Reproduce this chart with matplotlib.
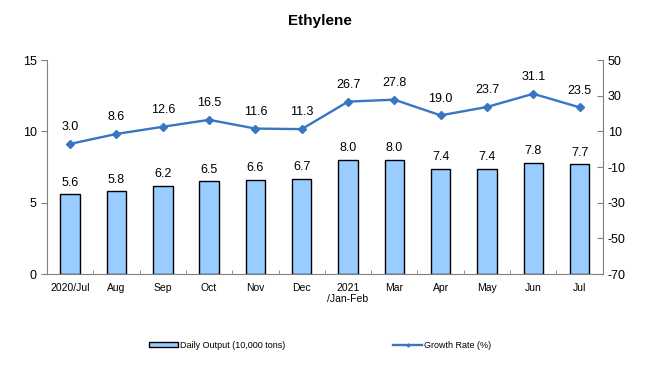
import matplotlib.pyplot as plt
import numpy as np

plt.rcParams['font.family'] = ['Liberation Sans', 'DejaVu Sans']
plt.rcParams['axes.unicode_minus'] = False

# datos
months = ['2020/Jul', 'Aug', 'Sep', 'Oct', 'Nov', 'Dec', '2021\n/Jan-Feb',
          'Mar', 'Apr', 'May', 'Jun', 'Jul']
output = [5.6, 5.8, 6.2, 6.5, 6.6, 6.7, 8.0, 8.0, 7.4, 7.4, 7.8, 7.7]
growth = [3.0, 8.6, 12.6, 16.5, 11.6, 11.3, 26.7, 27.8, 19.0, 23.7, 31.1, 23.5]

fig = plt.figure(figsize=(6.53, 3.9), dpi=100)
ax = fig.add_axes([0.072, 0.297, 0.851, 0.549])
ax2 = ax.twinx()

x = np.arange(len(months))
bars = ax.bar(x, output, width=0.42, color='#99CCFF', edgecolor='black',
              linewidth=1.0, label='Daily Output (10,000 tons)', zorder=2)
line, = ax2.plot(x, growth, color='#3A75C4', marker='D', markersize=4,
                 linewidth=1.7, label='Growth Rate (%)')

# etiquetas de valores
for xi, v in zip(x, output):
    ax.text(xi, v + 0.4, f'{v:.1f}', ha='center', va='bottom', fontsize=9)
for xi, v in zip(x, growth):
    ax2.text(xi, v + 6, f'{v:.1f}', ha='center', va='bottom', fontsize=9)

ax.set_xlim(-0.5, len(months) - 0.5)
ax.set_ylim(0, 15)
ax.set_yticks([0, 5, 10, 15])
ax2.set_ylim(-70, 50)
ax2.set_yticks(np.arange(-70, 51, 20))

ax.set_xticks(x)
ax.set_xticklabels(months, fontsize=7.5)
ax.set_xticks(np.arange(0.5, len(months) - 0.5, 1), minor=True)
ax.tick_params(axis='x', which='major', length=0, pad=6)
ax.tick_params(axis='x', which='minor', length=3, direction='in', color='#808080')
ax.tick_params(axis='y', labelsize=9, length=4, color='#808080', direction='out')
ax2.tick_params(axis='y', labelsize=9, length=4, color='#808080', direction='in')

for a in (ax, ax2):
    a.spines['top'].set_visible(False)
    for s in ('left', 'right', 'bottom'):
        a.spines[s].set_color('#808080')
ax2.spines['bottom'].set_visible(False)
ax2.spines['left'].set_visible(False)
ax.spines['right'].set_visible(False)

fig.text(0.49, 0.945, 'Ethylene', ha='center', va='center',
         fontsize=11, fontweight='bold')

fig.legend([bars, line], ['Daily Output (10,000 tons)', 'Growth Rate (%)'],
           loc='center', bbox_to_anchor=(0.49, 0.115), ncol=2, frameon=False,
           fontsize=6.5, columnspacing=12, handlelength=3.2, handleheight=0.6,
           handletextpad=0.2, markerscale=0.4)

fig.savefig('out.png', dpi=100)
